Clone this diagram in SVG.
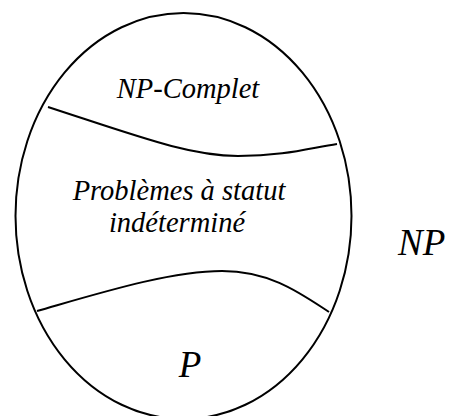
<svg xmlns="http://www.w3.org/2000/svg" width="449" height="416" viewBox="0 0 449 416">
<style>
.ln{fill:none;stroke:#000;stroke-width:2}
.t{font-family:'Liberation Serif','Times New Roman',serif;font-style:italic;fill:#000}
</style>
<rect width="449" height="416" fill="#fff"/>
<g id="connectors">
<path class="ln" d="M48,107 C140,137 190,156 238,156 C285,156 310,148 337,144"/>
<path class="ln" d="M37,311 C100,293 170,271 222,271 C270,271 300,293 329,312"/>
</g>
<g id="np-set">
<ellipse class="ln" cx="183.5" cy="216" rx="168" ry="203"/>
</g>
<g id="np-complet"><text class="t" x="188" y="98" font-size="28.5" text-anchor="middle">NP-Complet</text></g>
<g id="indetermine">
<text class="t" x="179" y="200" font-size="28.5" text-anchor="middle">Problèmes à statut</text>
<text class="t" x="177" y="232" font-size="28.5" text-anchor="middle">indéterminé</text>
</g>
<g id="p"><text class="t" x="190" y="377" font-size="37" text-anchor="middle">P</text></g>
<g id="np-label"><text class="t" x="398" y="255" font-size="37">NP</text></g>
</svg>
